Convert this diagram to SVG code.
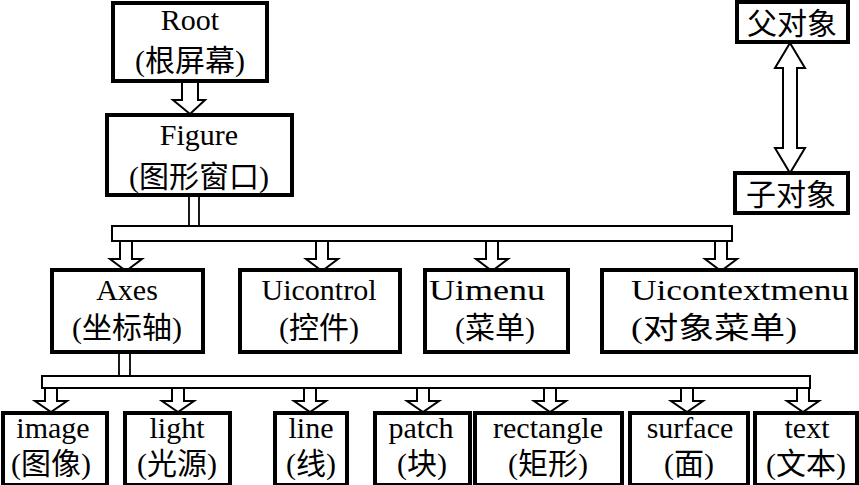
<svg xmlns="http://www.w3.org/2000/svg" width="859" height="485" viewBox="0 0 859 485">
<style>
.box{fill:#fff;stroke:#000;stroke-width:4}
.t{font-family:"Liberation Serif","Noto Sans CJK SC",serif;font-size:30px;fill:#000;text-anchor:middle}
.arr{fill:#fff;stroke:#000;stroke-width:2;stroke-linejoin:miter}
.ln{stroke:#000;stroke-width:1.8;fill:none}
</style>
<rect width="859" height="485" fill="#fff"/>
<g id="connectors">
<polygon class="arr" points="182,81 198,81 198,100 205,100 190,114 173,100 182,100"/>
<line class="ln" x1="189" y1="195" x2="189" y2="226"/>
<line class="ln" x1="199" y1="195" x2="199" y2="226"/>
<rect class="arr" x="112" y="226" width="620" height="15"/>
<polygon class="arr" points="120,241 132,241 132,259 142,259 126,271 110,259 120,259"/>
<polygon class="arr" points="316,241 328,241 328,259 338,259 322,271 306,259 316,259"/>
<polygon class="arr" points="486,241 498,241 498,259 508,259 492,271 476,259 486,259"/>
<polygon class="arr" points="715,241 727,241 727,259 737,259 721,271 705,259 715,259"/>
<line class="ln" x1="119" y1="352" x2="119" y2="376"/>
<line class="ln" x1="130" y1="352" x2="130" y2="376"/>
<rect class="arr" x="42" y="376" width="768" height="12"/>
<polygon class="arr" points="45,388 57,388 57,401 67,401 51,412 35,401 45,401"/>
<polygon class="arr" points="172,388 184,388 184,401 194,401 178,412 162,401 172,401"/>
<polygon class="arr" points="304,388 316,388 316,401 326,401 310,412 294,401 304,401"/>
<polygon class="arr" points="417,388 429,388 429,401 439,401 423,412 407,401 417,401"/>
<polygon class="arr" points="544,388 556,388 556,401 566,401 550,412 534,401 544,401"/>
<polygon class="arr" points="681,388 693,388 693,401 703,401 687,412 671,401 681,401"/>
<polygon class="arr" points="797,388 809,388 809,401 819,401 803,412 787,401 797,401"/>
<polygon class="arr" points="790,43 805,68 797,68 797,148 805,148 790,173 775,148 783,148 783,68 775,68"/>
</g>
<g id="root"><rect class="box" x="113" y="3" width="154" height="78"/><text class="t" x="190" y="30">Root</text><text class="t" x="190" y="71">(根屏幕)</text></g>
<g id="figure"><rect class="box" x="107" y="115" width="185" height="80"/><text class="t" x="199" y="145">Figure</text><text class="t" x="199" y="187">(图形窗口)</text></g>
<g id="axes"><rect class="box" x="52" y="270" width="151" height="82"/><text class="t" x="127" y="300">Axes</text><text class="t" x="127" y="338">(坐标轴)</text></g>
<g id="uicontrol"><rect class="box" x="240" y="270" width="160" height="82"/><text class="t" x="319" y="300">Uicontrol</text><text class="t" x="319" y="338">(控件)</text></g>
<g id="uimenu"><rect class="box" x="425" y="270" width="143" height="82"/><text class="t" x="487" y="300" textLength="116" lengthAdjust="spacingAndGlyphs">Uimenu</text><text class="t" x="495" y="338">(菜单)</text></g>
<g id="uicontextmenu"><rect class="box" x="602" y="270" width="254" height="82"/><text class="t" x="740" y="300" textLength="218" lengthAdjust="spacingAndGlyphs">Uicontextmenu</text><text class="t" x="714" y="338" textLength="166" lengthAdjust="spacingAndGlyphs">(对象菜单)</text></g>
<g id="image"><rect class="box" x="3" y="413" width="104" height="72"/><text class="t" x="53" y="438">image</text><text class="t" x="51" y="474">(图像)</text></g>
<g id="light"><rect class="box" x="125" y="413" width="105" height="72"/><text class="t" x="177" y="438">light</text><text class="t" x="177" y="474">(光源)</text></g>
<g id="line"><rect class="box" x="275" y="413" width="72" height="72"/><text class="t" x="311" y="438">line</text><text class="t" x="311" y="474">(线)</text></g>
<g id="patch"><rect class="box" x="375" y="413" width="95" height="72"/><text class="t" x="421" y="438">patch</text><text class="t" x="422" y="474">(块)</text></g>
<g id="rectangle"><rect class="box" x="475" y="413" width="147" height="72"/><text class="t" x="548" y="438">rectangle</text><text class="t" x="548" y="474">(矩形)</text></g>
<g id="surface"><rect class="box" x="630" y="413" width="118" height="72"/><text class="t" x="690" y="438">surface</text><text class="t" x="689" y="474">(面)</text></g>
<g id="text"><rect class="box" x="755" y="413" width="102" height="72"/><text class="t" x="807" y="438">text</text><text class="t" x="806" y="474">(文本)</text></g>
<g id="parent"><rect class="box" x="737" y="2" width="111" height="40"/><text class="t" x="792" y="34">父对象</text></g>
<g id="child"><rect class="box" x="735" y="173" width="113" height="40"/><text class="t" x="791" y="205">子对象</text></g>
</svg>
